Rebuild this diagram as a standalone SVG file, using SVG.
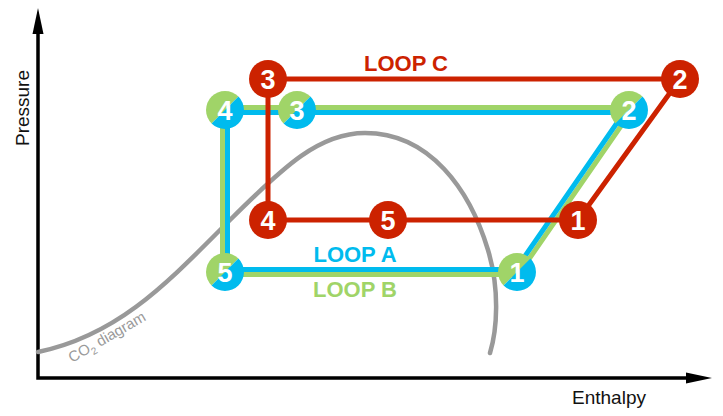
<svg xmlns="http://www.w3.org/2000/svg" xmlns:xlink="http://www.w3.org/1999/xlink" width="723" height="416" viewBox="0 0 723 416">
  <style>
    .axis { fill: none; stroke: #000; stroke-width: 3.5; }
    .head { fill: #000; }
    .axis-label { font-family: "Liberation Sans", Arial, sans-serif; font-size: 19px; fill: #111; }
    .dome { fill: none; stroke: #999; stroke-width: 4.5; stroke-linecap: round; }
    .dome-label { font-family: "Liberation Sans", Arial, sans-serif; font-size: 15px; fill: #999; }
    .loop-c { fill: none; stroke: #cc2200; stroke-width: 5; }
    .loop-a { fill: none; stroke: #00bbee; stroke-width: 5; }
    .loop-b { fill: none; stroke: #a0d468; stroke-width: 5; }
    .title { font-family: "Liberation Sans", Arial, sans-serif; font-size: 22px; font-weight: bold; text-anchor: middle; }
    .num { font-family: "Liberation Sans", Arial, sans-serif; font-size: 27px; font-weight: bold; fill: #fff; text-anchor: middle; }
  </style>
  <defs>
    <!-- red state point -->
    <circle id="disc-c" r="19" fill="#cc2200"/>
    <!-- shared A/B state point: green upper-left half, blue lower-right half -->
    <g id="disc-ab">
      <path d="M-13.435,13.435 A19,19 0 0 1 13.435,-13.435 Z" fill="#a0d468"/>
      <path d="M13.435,-13.435 A19,19 0 0 1 -13.435,13.435 Z" fill="#00bbee"/>
    </g>
  </defs>

  <rect width="723" height="416" fill="#fff"/>

  <!-- axes -->
  <g id="axes">
    <path class="axis" d="M38,32 V378 H687"/>
    <polygon class="head" points="38,8 32.5,34 43.5,34"/>
    <polygon class="head" points="712,378 686,372.5 686,383.5"/>
    <text class="axis-label" transform="translate(29,108) rotate(-90)" text-anchor="middle">Pressure</text>
    <text class="axis-label" x="609" y="404" text-anchor="middle">Enthalpy</text>
  </g>

  <!-- saturation dome -->
  <g id="dome">
    <path class="dome" d="M38,352 C120,335 170,280 230,220 C285,165 320,133 365,133 C430,133 470,190 488,250 C500,290 497,330 490,353"/>
    <text class="dome-label" transform="translate(72,363) rotate(-30)">CO<tspan font-size="10" dy="4">2</tspan><tspan dy="-4"> diagram</tspan></text>
  </g>

  <!-- connectors -->
  <g id="connectors">
    <polygon class="loop-b" points="222.5,107.5 633.8,107.5 518.3,274.5 222.5,274.5"/>
    <polygon class="loop-a" points="227.5,112.5 624.2,112.5 515.7,269.5 227.5,269.5"/>
    <path class="loop-c" d="M268,79 H680 L578,220 H268 Z"/>
  </g>

  <!-- loop labels -->
  <text class="title" x="406" y="71" fill="#cc2200">LOOP C</text>
  <text class="title" x="355" y="262" fill="#00bbee">LOOP A</text>
  <text class="title" x="355" y="297" fill="#a0d468">LOOP B</text>

  <!-- loops A and B state points -->
  <g id="ab-1" transform="translate(517,272)"><use xlink:href="#disc-ab"/><text class="num" y="10">1</text></g>
  <g id="ab-2" transform="translate(629,110)"><use xlink:href="#disc-ab"/><text class="num" y="10">2</text></g>
  <g id="ab-3" transform="translate(297,110)"><use xlink:href="#disc-ab"/><text class="num" y="10">3</text></g>
  <g id="ab-4" transform="translate(225,110)"><use xlink:href="#disc-ab"/><text class="num" y="10">4</text></g>
  <g id="ab-5" transform="translate(225,272)"><use xlink:href="#disc-ab"/><text class="num" y="10">5</text></g>

  <!-- loop C state points -->
  <g id="c-1" transform="translate(578,220)"><use xlink:href="#disc-c"/><text class="num" y="10">1</text></g>
  <g id="c-2" transform="translate(680,79)"><use xlink:href="#disc-c"/><text class="num" y="10">2</text></g>
  <g id="c-3" transform="translate(268,79)"><use xlink:href="#disc-c"/><text class="num" y="10">3</text></g>
  <g id="c-4" transform="translate(268,220)"><use xlink:href="#disc-c"/><text class="num" y="10">4</text></g>
  <g id="c-5" transform="translate(388,220)"><use xlink:href="#disc-c"/><text class="num" y="10">5</text></g>
</svg>
